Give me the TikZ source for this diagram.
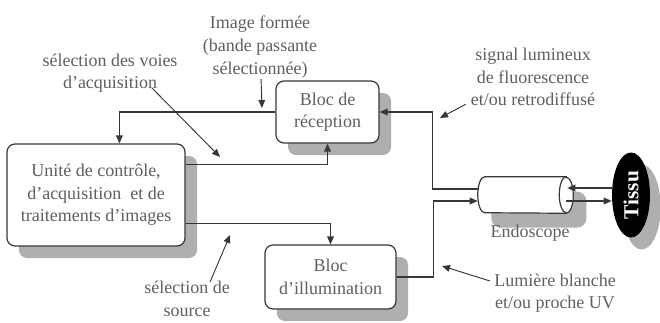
\documentclass[tikz,border=0pt]{standalone}
\usepackage{fontspec}
\setmainfont{Liberation Serif}
\usetikzlibrary{shapes.geometric,shadows,calc,arrows.meta}
\definecolor{trait}{RGB}{55,55,55}
\definecolor{gristxt}{RGB}{95,95,95}
\definecolor{ombre}{RGB}{175,175,175}
\tikzset{
  bloc/.style={draw=trait,line width=0.9pt,rounded corners=6pt,fill=white,align=center,text=gristxt,inner sep=0pt,
    font=\fontsize{13.5}{17}\selectfont,
    drop shadow={shadow xshift=9pt,shadow yshift=-9pt,fill=ombre,opacity=1}},
  etiq/.style={align=center,text=gristxt,inner sep=0.75pt,font=\fontsize{13.5}{17}\selectfont},
  fleche/.style={draw=trait,line width=1pt,-{Triangle[length=6pt,width=5pt]}},
  fine/.style={draw=trait,line width=0.7pt,-{Triangle[length=6pt,width=5pt]}},
}

\begin{document}
\begin{tikzpicture}[x=0.75pt,y=0.75pt,yscale=-1,xscale=1]
        \useasboundingbox (0,0) rectangle (660,322);

        %Shape: Rounded Rect
        \node [bloc,minimum width=133.5pt,minimum height=76.5pt] (unite) at (96,195) {Unité de contrôle,\\d'acquisition \ et de\\traitements d'images};
        %Shape: Rounded Rect
        \node [bloc,minimum width=77.25pt,minimum height=46.5pt] (recep) at (327.5,112) {Bloc de\\réception};
        %Shape: Rounded Rect
        \node [bloc,minimum width=98.25pt,minimum height=48pt] (illum) at (330.5,277) {Bloc\\d'illumination};

        %Shape: Cylinder (endoscope)
        \node [minimum width=71.25pt,minimum height=27pt,inner sep=0pt,rounded corners=7pt,fill=white,
          drop shadow={shadow xshift=10pt,shadow yshift=-11pt,fill=ombre,opacity=1}] (endo) at (525.5,195) {};
        \draw [trait,line width=0.9pt,fill=white] ($(endo.north east)+(-7,0)$) -- ($(endo.north west)+(7,0)$)
          arc [start angle=270,end angle=90,x radius=7,y radius=18] -- ($(endo.south east)+(-7,0)$)
          arc [start angle=90,end angle=-90,x radius=7,y radius=18] -- cycle;
        \draw [trait,line width=0.9pt] ($(endo.north east)+(-7,0)$) arc [start angle=270,end angle=90,x radius=7,y radius=18];

        %Shape: Ellipse
        \node [ellipse,fill=black,minimum width=28.5pt,minimum height=63.75pt,inner sep=0pt,text=white,
          font=\fontsize{16}{16}\selectfont\bfseries,
          drop shadow={shadow xshift=8pt,shadow yshift=-9pt,fill=ombre,opacity=1}] (tissu) at (631,195) {\rotatebox{90}{Tissu}};

        % Text Node
        \node [etiq] (imgf) at (260,47) {Image formée\\(bande passante\\sélectionnée)};
        % Text Node
        \node [etiq] (voies) at (110,73) {sélection des voies\\d'acquisition};
        % Text Node
        \node [etiq] (signal) at (533,77) {signal lumineux\\de fluorescence\\et/ou retrodiffusé};
        % Text Node
        \node [etiq] (lumiere) at (555,293) {Lumière blanche\\et/ou proche UV};
        % Text Node
        \node [etiq] (source) at (187,299) {sélection de\\source};
        % Text Node
        \node [etiq] (endolbl) at (530,233) {Endoscope};

        % pointes des annotations
        \coordinate (pimg) at (262,108);
        \coordinate (pvoies) at (220,157);
        \coordinate (psource) at (230,235);
        \coordinate (psignal) at (440,118);
        \coordinate (plumiere) at (442,266);

        % liaisons
        \draw [fleche] (recep.west) -| ($(unite.north west)+(113,0)$);
        \draw [fleche] ($(unite.north east)+(0,21)$) -| (recep.south);
        \draw [fleche] ($(unite.south east)+(0,-23)$) -| (illum.north);
        \draw [fleche] (illum.east) -- ++(37,0) |- ($(endo.west)+(0,6)$);
        \draw [fleche] ($(endo.west)+(0,-6)$) -- ++(-45,0) |- (recep.east);
        \draw [fleche] ($(tissu.west)+(0,-7)$) -- ($(endo.east)+(-6,-7)$);
        \draw [fleche] ($(endo.east)+(-7,6)$) -- ($(tissu.west)+(0,6)$);

        % annotations
        \draw [fine] (imgf) -- (pimg);
        \draw [fine] ($(voies.south east)+(-27,-6)$) -- (pvoies);
        \draw [fine] ($(source.north)+(23,2)$) -- (psource);
        \draw [fine] ($(signal.south west)+(-4,-3)$) -- (psignal);
        \draw [fine] ($(lumiere.west)+(-3,-12)$) -- (plumiere);

\end{tikzpicture}
\end{document}
